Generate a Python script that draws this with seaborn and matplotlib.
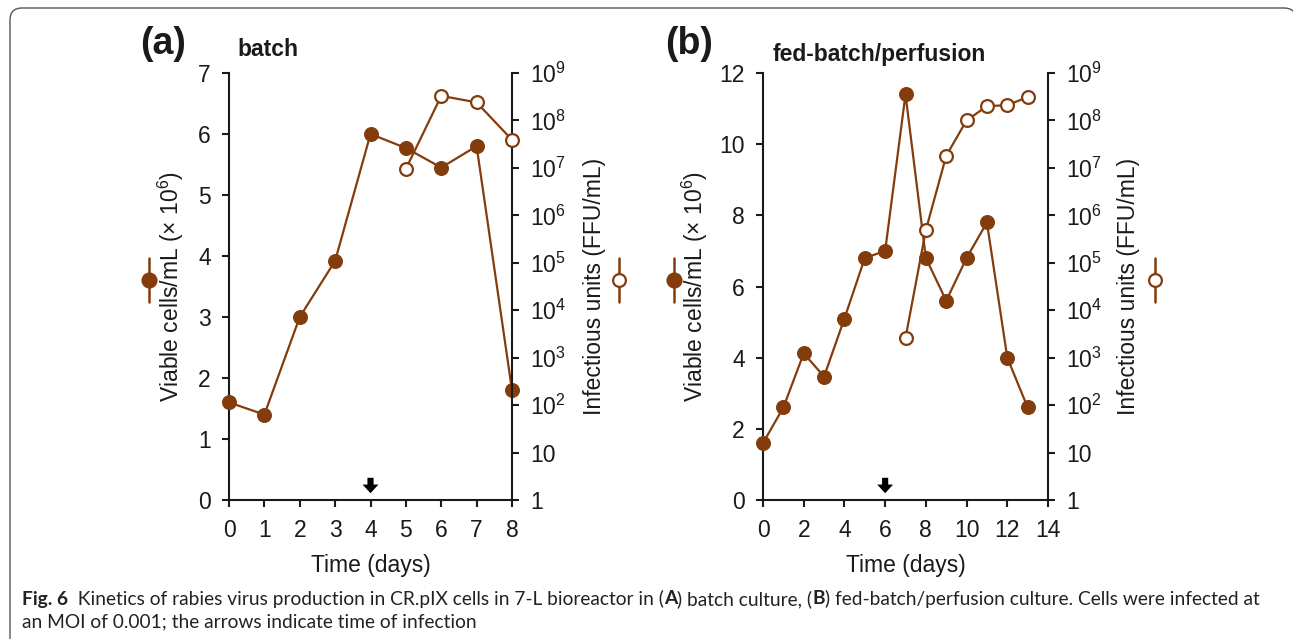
import numpy as np
import pandas as pd
import matplotlib.pyplot as plt
import seaborn as sns
from matplotlib.lines import Line2D
from matplotlib.patches import PathPatch
from matplotlib.path import Path
from matplotlib.transforms import Affine2D

# data
batch_days = [0, 1, 2, 3, 4, 5, 6, 7, 8]
batch_cells = [1.6, 1.4, 3.0, 3.92, 6.0, 5.77, 5.45, 5.8, 1.8]
batch_virus_days = [5, 6, 7, 8]
batch_virus = [9.5e6, 3.3e8, 2.4e8, 3.9e7]
batch_infection_day = 4

fed_days = [0, 1, 2, 3, 4, 5, 6, 7, 8, 9, 10, 11, 12, 13]
fed_cells = [1.6, 2.6, 4.12, 3.47, 5.1, 6.8, 7.0, 11.4, 6.8, 5.6, 6.8, 7.8, 4.0, 2.6]
fed_virus_days = [7, 8, 9, 10, 11, 12, 13]
fed_virus = [2.6e3, 4.9e5, 1.8e7, 1.0e8, 2.0e8, 2.1e8, 3.1e8]
fed_infection_day = 6

virus_ticks = [1, 10, 1e2, 1e3, 1e4, 1e5, 1e6, 1e7, 1e8, 1e9]
virus_labels = ['1', '10'] + [r'$\mathregular{10^{%d}}$' % k for k in range(2, 10)]

BROWN = '#843c0c'
INK = '#1a1a1a'
W, H = 1293, 639
FS = 16.5

sns.set_theme(style='ticks')
plt.rcParams['font.family'] = ['Liberation Sans', 'DejaVu Sans']
plt.rcParams['mathtext.default'] = 'regular'

fig = plt.figure(figsize=(W / 100, H / 100), dpi=100)
fig.patch.set_facecolor('white')

# pixel (from top-left) -> figure coords
px = Affine2D().scale(1 / W, -1 / H).translate(0, 1) + fig.transFigure


def fx(x):
    return x / W


def fy(y):
    return 1 - y / H


def key_symbol(x, y, filled):
    fig.add_artist(Line2D([x, x], [y - 22, y + 22], transform=px, color=BROWN, lw=1.8))
    fig.add_artist(Line2D([x], [y], transform=px, marker='o',
                          ms=10 if filled else 9.2,
                          mfc=BROWN if filled else 'white', mec=BROWN, mew=1.6,
                          color=BROWN, lw=0))


def draw_panel(left, right, days, cells, vdays, virus, xmax, xstep, ymax, ystep,
               inf_day, tag, title, tag_x, title_x, title_y, ylab_l, ylab_r):
    ax = fig.add_axes([fx(left), fy(500), fx(right - left), 427 / H])
    ax.set_facecolor('none')
    df = pd.DataFrame({'day': days, 'cells': cells})
    sns.lineplot(data=df, x='day', y='cells', ax=ax, color=BROWN, lw=1.6,
                 marker='o', markersize=10, markeredgecolor=BROWN,
                 markerfacecolor=BROWN, clip_on=False, zorder=4)
    ax.set_xlim(0, xmax)
    ax.set_ylim(0, ymax)
    ax.set_xticks(np.arange(0, xmax + 1, xstep))
    ax.set_yticks(np.arange(0, ymax + 1, ystep))
    ax.set_xlabel('Time (days)', fontsize=FS, color=INK, labelpad=8)
    ax.set_ylabel(r'Viable cells/mL (× 10$^{6}$)', fontsize=FS, color=INK)
    ax.yaxis.set_label_coords((ylab_l - left) / (right - left), 0.5)

    ax2 = ax.twinx()
    dv = pd.DataFrame({'day': vdays, 'virus': virus})
    sns.lineplot(data=dv, x='day', y='virus', ax=ax2, color=BROWN, lw=1.6,
                 marker='o', markersize=9.2, markeredgecolor=BROWN,
                 markerfacecolor='white', markeredgewidth=1.6, clip_on=False,
                 zorder=4)
    ax2.set_yscale('log')
    ax2.set_ylim(1, 1e9)
    ax2.set_yticks(virus_ticks)
    ax2.set_yticklabels(virus_labels)
    ax2.minorticks_off()
    ax2.set_ylabel('Infectious units (FFU/mL)', fontsize=FS, color=INK)
    ax2.yaxis.set_label_coords((ylab_r - left) / (right - left), 0.5)

    for a in (ax, ax2):
        for s in a.spines.values():
            s.set_linewidth(1.5)
            s.set_color(INK)
        a.spines['top'].set_visible(False)
        a.tick_params(length=5, width=1.5, labelsize=FS, colors=INK, pad=8)
    ax.tick_params(axis='x', pad=9)
    ax.spines['right'].set_visible(False)
    ax2.spines['left'].set_visible(False)
    ax2.spines['bottom'].set_visible(False)

    # infection arrow
    ppu = 427 / ymax
    ax.annotate('', xy=(inf_day, 4 / ppu), xytext=(inf_day, 25 / ppu),
                arrowprops=dict(arrowstyle='simple,head_width=0.44,head_length=0.24,tail_width=0.17',
                                mutation_scale=26, color='black', lw=0))

    fig.text(fx(tag_x), fy(44), tag, fontsize=27, fontweight='bold', color=INK,
             ha='left', va='center')
    fig.text(fx(title_x), fy(title_y), title, fontsize=16.5, fontweight='bold', color=INK,
             ha='left', va='center')
    return ax, ax2


draw_panel(229, 512, batch_days, batch_cells, batch_virus_days, batch_virus,
           8, 1, 7, 1, batch_infection_day, '(a)', 'batch', 140, 237, 50, 186, 583)
draw_panel(763, 1048, fed_days, fed_cells, fed_virus_days, fed_virus,
           14, 2, 12, 2, fed_infection_day, '(b)', 'fed-batch/perfusion', 665, 773, 55, 710, 1117)

key_symbol(149, 280, True)
key_symbol(619, 280, False)
key_symbol(674, 280, True)
key_symbol(1155, 280, False)

# rounded frame around the figure box (right and bottom fall off the page)
verts = [(10, 700), (10, 20), (10, 8), (22, 8), (1284, 8), (1296, 8), (1296, 20), (1296, 700)]
codes = [Path.MOVETO, Path.LINETO, Path.CURVE3, Path.CURVE3, Path.LINETO,
         Path.CURVE3, Path.CURVE3, Path.LINETO]
fig.add_artist(PathPatch(Path(verts, codes), transform=px, facecolor='none',
                         edgecolor='#555555', lw=1.0))

cap_font = ['Liberation Sans Narrow', 'Lato', 'DejaVu Sans']
cap_size = 13.8
line1 = [('Fig. 6', 'bold'),
         ('  Kinetics of rabies virus production in CR.pIX cells in 7-L bioreactor in (', 'normal'),
         ('A', 'bold'), (') batch culture, (', 'normal'), ('B', 'bold'),
         (') fed-batch/perfusion culture. Cells were infected at', 'normal')]

renderer = fig.canvas.get_renderer()
x = fx(22)
for txt, w in line1:
    t = fig.text(x, fy(599), txt, fontsize=cap_size, fontweight=w, family=cap_font,
                 color='#222222', ha='left', va='center')
    x += t.get_window_extent(renderer=renderer).width / W
fig.text(fx(22), fy(622), 'an MOI of 0.001; the arrows indicate time of infection',
         fontsize=cap_size, family=cap_font, color='#222222', ha='left', va='center')

fig.savefig('out.png', dpi=100, facecolor='white')
